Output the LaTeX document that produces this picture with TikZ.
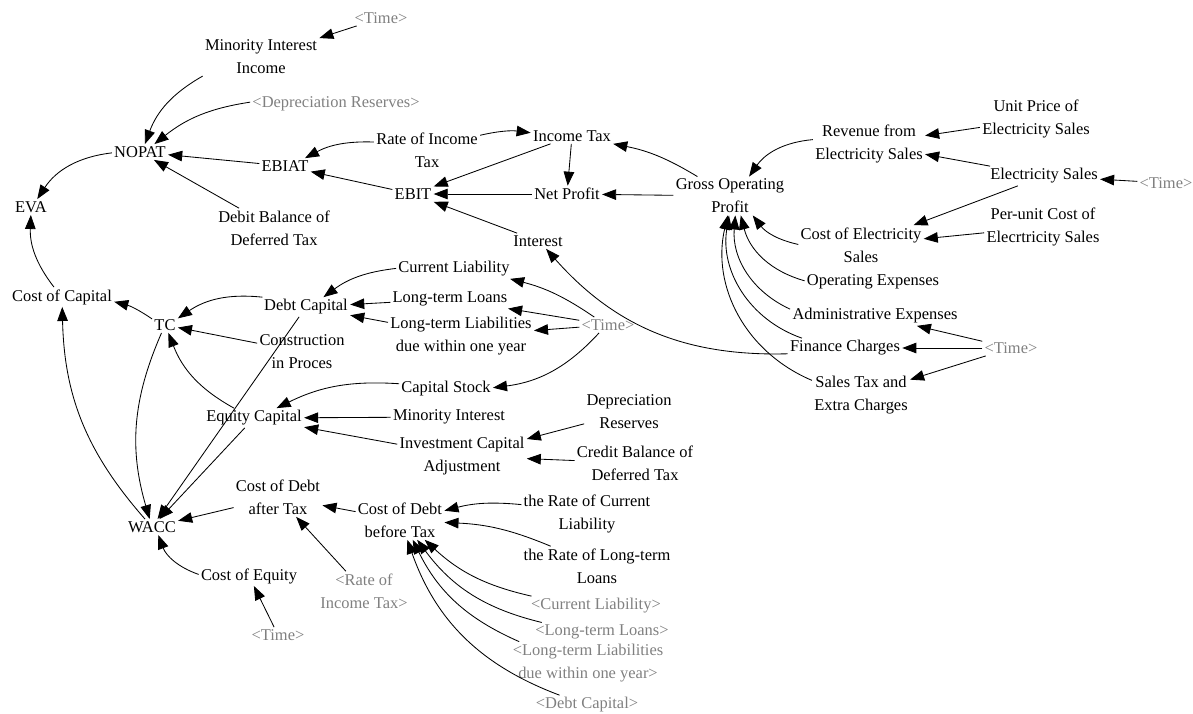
\documentclass[tikz,border=0pt]{standalone}
\usepackage{fontspec}
\setmainfont{Liberation Serif}
\usepackage{xcolor}
\usepackage{tikz}
\usetikzlibrary{arrows.meta}
\definecolor{ghostgray}{RGB}{128,128,128}
\tikzset{
  var/.style={inner sep=1.5pt, align=center, font=\fontsize{11.7}{16.4}\selectfont},
  ghost/.style={var, text=ghostgray},
  link/.style={-{Triangle[length=10pt, width=7.5pt]}, line width=0.6pt},
}

\begin{document}
\begin{tikzpicture}[x=0.025cm, y=-0.025cm]
\useasboundingbox (0,0) rectangle (1193,713);
\node[ghost] (timeA) at (381,18) {<Time>};
\node[var] (mii) at (261,57) {Minority Interest\\Income};
\node[ghost] (depA) at (336,104) {<Depreciation Reserves>};
\node[var] (nopat) at (140,152) {NOPAT};
\node[var] (eva) at (31,207) {EVA};
\node[var] (ebiat) at (285,166) {EBIAT};
\node[var] (debit) at (274,228) {Debit Balance of\\Deferred Tax};
\node[var] (rit) at (427,150) {Rate of Income\\Tax};
\node[var] (itax) at (572,136) {Income Tax};
\node[var] (ebit) at (413,194) {EBIT};
\node[var] (np) at (567,194) {Net Profit};
\node[var] (intr) at (538,241) {Interest};
\node[var] (gop) at (730,196) {Gross Operating\\Profit};
\node[var] (rev) at (869,144) {Revenue from\\Electricity Sales};
\node[var] (price) at (1036,119) {Unit Price of\\Electricity Sales};
\node[var] (sales) at (1044,176) {Electricity Sales};
\node[ghost] (timeB) at (1166,183) {<Time>};
\node[var] (ucost) at (1043,227) {Per-unit Cost of\\Elecrtricity Sales};
\node[var] (coes) at (861,245) {Cost of Electricity\\Sales};
\node[var] (opex) at (873,282) {Operating Expenses};
\node[var] (admin) at (875,316) {Administrative Expenses};
\node[var] (fin) at (845,348) {Finance Charges};
\node[ghost] (timeC) at (1011,348) {<Time>};
\node[var] (stax) at (861,395) {Sales Tax and\\Extra Charges};
\node[var] (coc) at (62,297) {Cost of Capital};
\node[var] (tc) at (165,325) {TC};
\node[var] (debt) at (306,307) {Debt Capital};
\node[var] (cip) at (302,352) {Construction\\in Proces};
\node[var] (equity) at (254,418) {Equity Capital};
\node[var] (cl) at (454,269) {Current Liability};
\node[var] (ltl) at (450,299) {Long-term Loans};
\node[var] (ltd) at (461,336) {Long-term Liabilities\\due within one year};
\node[ghost] (timeD) at (608,325) {<Time>};
\node[var] (stock) at (446,389) {Capital Stock};
\node[var] (mi) at (449,417) {Minority Interest};
\node[var] (ica) at (462,456) {Investment Capital\\Adjustment};
\node[var] (dep) at (629,412) {Depreciation\\Reserves};
\node[var] (credit) at (635,463) {Credit Balance of\\Deferred Tax};
\node[var] (cda) at (278,497) {Cost of Debt\\after Tax};
\node[var] (wacc) at (152,527) {WACC};
\node[var] (cdb) at (400,520) {Cost of Debt\\before Tax};
\node[var] (coe) at (249,576) {Cost of Equity};
\node[ghost] (ritA) at (364,591) {<Rate of\\Income Tax>};
\node[ghost] (timeE) at (278,635) {<Time>};
\node[var] (rcl) at (587,514) {the Rate of Current\\Liability};
\node[var] (rll) at (597,566) {the Rate of Long-term\\Loans};
\node[ghost] (clA) at (596,606) {<Current Liability>};
\node[ghost] (ltlA) at (602,632) {<Long-term Loans>};
\node[ghost] (ltdA) at (588,663) {<Long-term Liabilities\\due within one year>};
\node[ghost] (debtA) at (587,705) {<Debt Capital>};

\draw[link] (timeA) -- (mii);
\draw[link, bend right=20] (mii) to (nopat);
\draw[link, bend right=15] (depA) to (nopat);
\draw[link] (ebiat) -- (nopat);
\draw[link] (debit) -- (nopat);
\draw[link, bend right=25] (nopat) to (eva);
\draw[link, bend right=15] (rit) to (ebiat);
\draw[link] (ebit) -- (ebiat);
\draw[link, bend left=10] (rit) to (itax);
\draw[link] (itax) -- (ebit);
\draw[link] (itax) -- (np);
\draw[link] (np) -- (ebit);
\draw[link] (intr) -- (ebit);
\draw[link, bend right=10] (gop) to (itax);
\draw[link] (gop) -- (np);
\draw[link, bend right=25] (rev) to (gop);
\draw[link] (price) -- (rev);
\draw[link] (sales) -- (rev);
\draw[link] (timeB) -- (sales);
\draw[link] (sales) -- (coes);
\draw[link] (ucost) -- (coes);
\draw[link, bend left=20] (coes) to (gop);
\draw[link, bend left=30] (opex) to (gop);
\draw[link, bend left=35] (admin) to (gop);
\draw[link, bend left=40] (fin) to (gop);
\draw[link, bend left=40] (stax) to (gop);
\draw[link, bend left=25] (fin) to (intr);
\draw[link] (timeC) -- (admin);
\draw[link] (timeC) -- (fin);
\draw[link] (timeC) -- (stax);
\draw[link, bend left=20] (coc) to (eva);
\draw[link, bend right=10] (tc) to (coc);
\draw[link, bend right=20] (debt) to (tc);
\draw[link] (cip) -- (tc);
\draw[link, bend left=20] (equity) to (tc);
\draw[link, bend right=15] (cl) to (debt);
\draw[link] (ltl) -- (debt);
\draw[link] (ltd) -- (debt);
\draw[link, bend right=10] (timeD) to (cl);
\draw[link] (timeD) -- (ltl);
\draw[link] (timeD) -- (ltd);
\draw[link, bend left=20] (timeD) to (stock);
\draw[link, bend right=15] (stock) to (equity);
\draw[link] (mi) -- (equity);
\draw[link] (ica) -- (equity);
\draw[link] (dep) -- (ica);
\draw[link] (credit) -- (ica);
\draw[link, bend right=20] (tc) to (wacc);
\draw[link, bend left=20] (wacc) to (coc);
\draw[link] (debt) -- (wacc);
\draw[link] (equity) -- (wacc);
\draw[link] (cda) -- (wacc);
\draw[link] (cdb) -- (cda);
\draw[link] (ritA) -- (cda);
\draw[link, bend left=25] (coe) to (wacc);
\draw[link] (timeE) -- (coe);
\draw[link, bend right=10] (rcl) to (cdb);
\draw[link, bend right=10] (rll) to (cdb);
\draw[link, bend left=15] (clA) to (cdb);
\draw[link, bend left=20] (ltlA) to (cdb);
\draw[link, bend left=20] (ltdA) to (cdb);
\draw[link, bend left=25] (debtA) to (cdb);
\end{tikzpicture}
\end{document}
